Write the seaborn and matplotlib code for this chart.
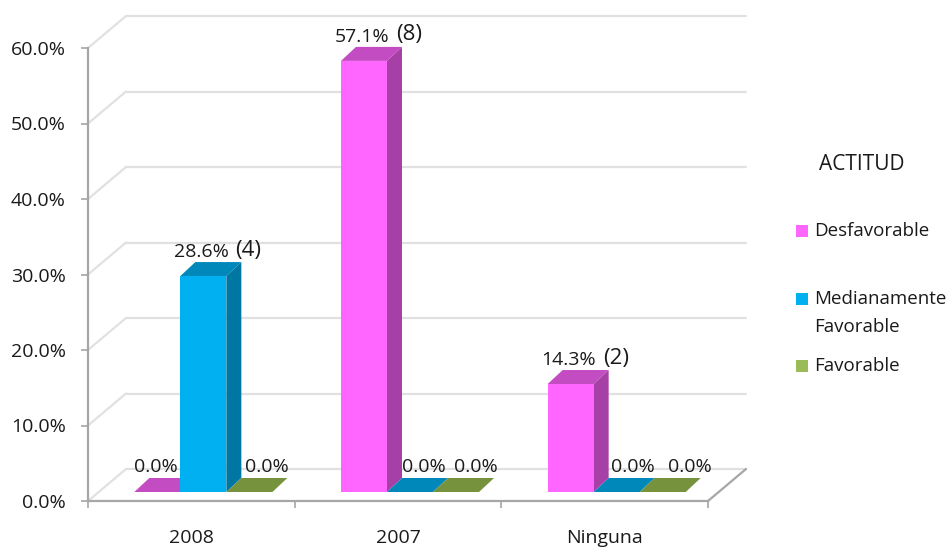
import matplotlib
matplotlib.use("Agg")
import matplotlib.pyplot as plt
import seaborn as sns
import pandas as pd
from matplotlib.patches import Polygon, Rectangle

years = ["2008", "2007", "Ninguna"]
actitudes = ["Desfavorable", "Medianamente\nFavorable", "Favorable"]
desfavorable = [0.0, 57.1, 14.3]
medianamente = [28.6, 0.0, 0.0]
favorable = [0.0, 0.0, 0.0]
counts = {(0, 1): "(4)", (1, 0): "(8)", (2, 0): "(2)"}
y_ticks = [0, 10, 20, 30, 40, 50, 60]

# front, side, top colours per series
front_colors = ["#FF66FF", "#00B0F0", "#9BBB59"]
side_colors = ["#A640A6", "#0076A3", "#6A8139"]
top_colors = ["#C34CC3", "#0088BA", "#76923C"]
grid_color = "#E1E1E1"
axis_color = "#A6A6A6"
text_color = "#1A1A1A"

W, H = 948, 549
FONT = 14

sns.set_style("white")
plt.rcParams["font.family"] = ["Open Sans", "DejaVu Sans"]

df = pd.DataFrame({
    "year": years * 3,
    "actitud": [a for a in actitudes for _ in years],
    "value": desfavorable + medianamente + favorable,
})

fig = plt.figure(figsize=(W / 100, H / 100), dpi=100)
ax = fig.add_axes([88 / W, (H - 501) / H, 620 / W, 453 / H])

sns.barplot(data=df, x="year", y="value", hue="actitud", hue_order=actitudes,
            palette=front_colors, width=0.668, gap=0, saturation=1,
            linewidth=0, legend=False, ax=ax)
ax.set_xlim(-0.5, 2.5)
ax.set_ylim(0, 60)

# pixel sizes expressed in data units
px_x = 3 / 620
px_y = 60 / 453


def poly(points, color, zorder=3):
    ax.add_patch(Polygon(points, closed=True, facecolor=color, edgecolor="none",
                         zorder=zorder, clip_on=False))


# walls and floor
wall_dx, wall_dy = 38 * px_x, 32 * px_y
for t in y_ticks:
    ax.plot([-0.5, -0.5 + wall_dx], [t, t + wall_dy], color=grid_color, lw=1.6,
            clip_on=False, zorder=1)
    ax.plot([-0.5 + wall_dx, 2.5 + wall_dx], [t + wall_dy, t + wall_dy],
            color=grid_color, lw=1.6, clip_on=False, zorder=1)
ax.plot([2.5, 2.5 + wall_dx], [0, wall_dy], color=axis_color, lw=1.6,
        clip_on=False, zorder=1)

# 3D boxes
shift_x, base_y = 12 * px_x, 9 * px_y
depth_x, depth_y = 15 * px_x, 14 * px_y
# hand placed label shift for the 0.0% labels, in pixels
zero_shift = {(0, 0): -1, (0, 2): 18, (1, 1): 14, (1, 2): 20, (2, 1): 16, (2, 2): 27}

for s, container in enumerate(ax.containers):
    for c, bar in enumerate(container):
        bar.set_x(bar.get_x() + shift_x)
        bar.set_y(base_y)
        bar.set_zorder(4)
        x0, x1 = bar.get_x(), bar.get_x() + bar.get_width()
        top = base_y + bar.get_height()
        poly([(x0, top), (x1, top), (x1 + depth_x, top + depth_y),
              (x0 + depth_x, top + depth_y)], top_colors[s])
        if bar.get_height() > 0:
            poly([(x1, base_y), (x1 + depth_x, base_y + depth_y),
                  (x1 + depth_x, top + depth_y), (x1, top)], side_colors[s])

        xc = (x0 + x1) / 2
        value = bar.get_height()
        if value > 0:
            ax.annotate(f"{value:.1f}%", (xc, top), xytext=(-2, 24), textcoords="offset pixels",
                        ha="center", va="center", fontsize=FONT, color=text_color, zorder=6,
                        annotation_clip=False)
            ax.annotate(counts[(c, s)], (xc, top), xytext=(45, 26), textcoords="offset pixels",
                        ha="center", va="center", fontsize=FONT + 2, color=text_color, zorder=6,
                        annotation_clip=False)
        elif (c, s) in zero_shift:
            ax.annotate("0.0%", (xc, top), xytext=(zero_shift[(c, s)], 25), textcoords="offset pixels",
                        ha="center", va="center", fontsize=FONT, color=text_color, zorder=6,
                        annotation_clip=False)

# axes
sns.despine(ax=ax)
for side in ["left", "bottom"]:
    ax.spines[side].set_color(axis_color)
    ax.spines[side].set_linewidth(1.6)
    ax.spines[side].set_zorder(2)
ax.set_xlabel("")
ax.set_ylabel("")
ax.set_yticks(y_ticks)
ax.set_yticklabels([f"{t:.1f}%" for t in y_ticks], fontsize=FONT, color=text_color)
ax.set_xticks([-0.5, 0.5, 1.5, 2.5], minor=True)
ax.tick_params(axis="y", length=5, width=1.2, color=axis_color, pad=11, left=True)
ax.tick_params(axis="x", which="major", length=0, pad=20, labelsize=FONT, labelcolor=text_color)
ax.tick_params(axis="x", which="minor", length=5, width=1.2, color=axis_color, bottom=True)

# legend placed by hand because the gaps are uneven
fig.text(862 / W, 1 - 165 / H, "ACTITUD", ha="center", va="center", fontsize=15, color=text_color)
legend_rows = [231, 299, 366]
for label, color, row in zip(actitudes, front_colors, legend_rows):
    fig.add_artist(Rectangle((796 / W, 1 - (row + 6) / H), 12 / W, 12 / H,
                             transform=fig.transFigure, facecolor=color, edgecolor="none"))
    lines = label.split("\n")
    for i, line in enumerate(lines):
        fig.text(814 / W, 1 - (row + i * 28) / H, line, ha="left", va="center",
                 fontsize=13.5, color=text_color)

fig.savefig("out.png", dpi=100)
